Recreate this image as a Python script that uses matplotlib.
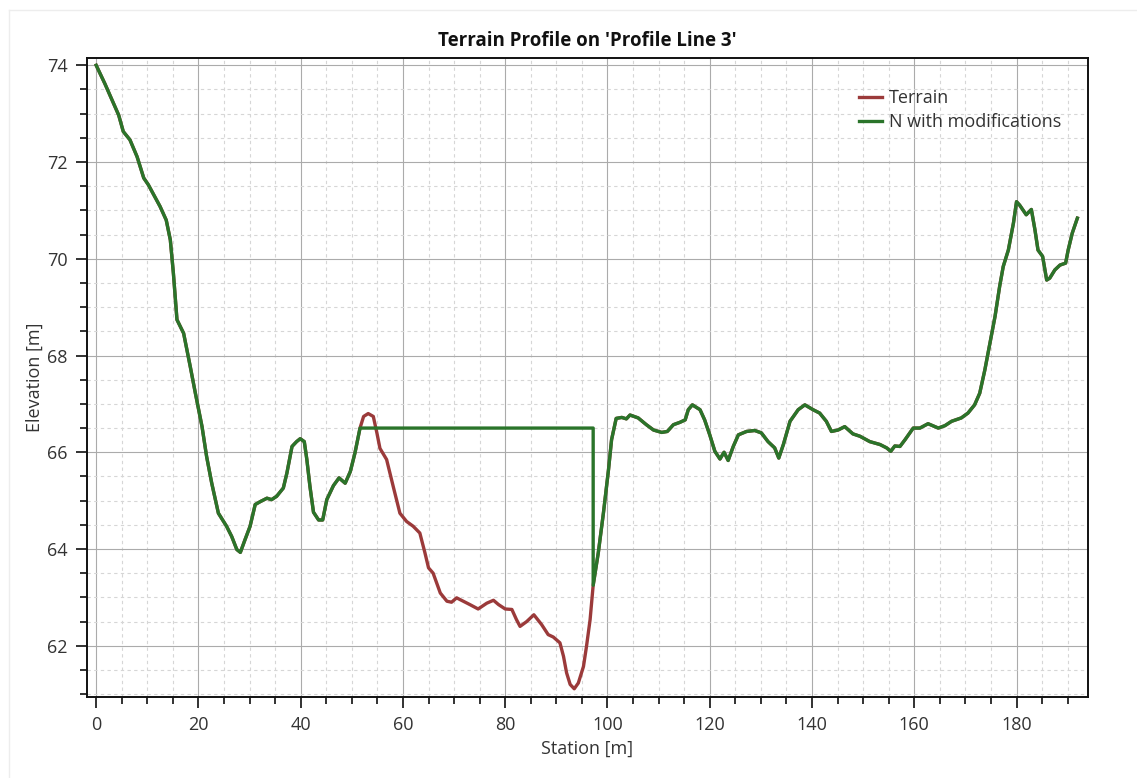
import matplotlib
matplotlib.use('Agg')
import matplotlib.pyplot as plt
from matplotlib.lines import Line2D
from matplotlib.ticker import MultipleLocator
import numpy as np

plt.rcParams['font.family'] = ['Open Sans', 'DejaVu Sans']

# terrain along the profile line: station [m], elevation [m]
station = [
    0.0, 1.7, 3.4, 4.4, 5.3, 6.6, 8.0, 9.3, 10.2, 12.5, 13.7, 14.5, 15.1, 15.8,
    17.1, 18.4, 19.4, 20.7, 21.6, 22.6, 23.9, 25.5, 26.5, 27.5, 28.2, 29.1,
    30.1, 31.1, 32.1, 33.4, 34.3, 35.3, 36.6, 37.3, 38.3, 39.2, 39.9, 40.7,
    41.2, 41.8, 42.5, 43.5, 44.3, 45.1, 46.4, 47.5, 48.7, 49.7, 50.6, 51.6,
    52.3, 53.2, 54.2, 54.9, 55.5, 56.8, 58.1, 59.4, 60.7, 62.0, 63.3, 64.3,
    65.0, 65.9, 67.3, 68.6, 69.5, 70.5, 71.8, 73.1, 74.7, 76.4, 77.7, 78.7,
    80.0, 81.3, 82.2, 82.9, 84.2, 85.6, 87.1, 88.4, 89.4, 90.7, 91.4, 92.0,
    92.7, 93.5, 94.3, 95.3, 95.9, 96.6, 97.2, 98.2, 99.2, 100.2, 100.8, 101.7,
    102.8, 103.7, 104.4, 106.0, 107.6, 109.0, 110.6, 111.7, 112.9, 114.2,
    115.2, 115.8, 116.6, 118.1, 119.0, 120.0, 121.0, 122.0, 122.8, 123.6,
    124.6, 125.6, 127.2, 128.8, 130.1, 131.4, 132.7, 133.5, 134.4, 135.7,
    137.3, 138.6, 140.2, 141.5, 142.8, 143.8, 145.1, 146.4, 148.0, 149.4,
    151.3, 153.3, 154.6, 155.4, 156.2, 157.2, 158.2, 159.8, 161.1, 162.7,
    164.7, 166.0, 167.3, 169.2, 170.5, 171.8, 172.8, 173.8, 174.8, 175.8,
    176.7, 177.4, 178.4, 179.4, 180.0, 180.6, 181.9, 182.9, 183.6, 184.2,
    185.1, 185.9, 186.5, 187.5, 188.5, 189.6, 190.1, 190.9, 191.9,
]
elevation = [
    74.00, 73.62, 73.21, 72.97, 72.63, 72.46, 72.11, 71.67, 71.53, 71.08,
    70.80, 70.39, 69.70, 68.74, 68.46, 67.77, 67.22, 66.53, 65.91, 65.36,
    64.74, 64.47, 64.26, 63.99, 63.93, 64.19, 64.47, 64.92, 64.98, 65.05,
    65.02, 65.09, 65.26, 65.57, 66.12, 66.22, 66.28, 66.22, 65.85, 65.30,
    64.76, 64.60, 64.60, 65.02, 65.31, 65.47, 65.36, 65.60, 65.98, 66.50,
    66.74, 66.80, 66.74, 66.40, 66.08, 65.85, 65.29, 64.74, 64.57, 64.47,
    64.33, 63.92, 63.61, 63.50, 63.09, 62.92, 62.90, 62.99, 62.92, 62.85,
    62.76, 62.88, 62.94, 62.85, 62.76, 62.75, 62.54, 62.40, 62.50, 62.64,
    62.44, 62.23, 62.18, 62.06, 61.78, 61.44, 61.20, 61.11, 61.23, 61.57,
    61.99, 62.54, 63.25, 63.92, 64.74, 65.64, 66.26, 66.70, 66.72, 66.69,
    66.77, 66.71, 66.57, 66.46, 66.41, 66.43, 66.57, 66.62, 66.67, 66.88,
    66.98, 66.88, 66.67, 66.36, 66.02, 65.86, 66.00, 65.83, 66.12, 66.36,
    66.43, 66.45, 66.40, 66.22, 66.09, 65.88, 66.16, 66.64, 66.88, 66.98,
    66.88, 66.81, 66.64, 66.43, 66.46, 66.53, 66.38, 66.33, 66.22, 66.16,
    66.09, 66.02, 66.13, 66.12, 66.26, 66.50, 66.50, 66.59, 66.50, 66.55,
    66.64, 66.71, 66.81, 66.98, 67.22, 67.70, 68.26, 68.81, 69.43, 69.84,
    70.18, 70.74, 71.18, 71.11, 70.91, 71.02, 70.60, 70.18, 70.05, 69.56,
    69.60, 69.77, 69.87, 69.91, 70.18, 70.53, 70.84,
]

# level fill between two stations
pad_start = 51.6
pad_end = 97.2
pad_elevation = 66.5

terrain_color = '#9b3a3a'
modified_color = '#2a742a'

st = np.array(station)
el = np.array(elevation)

# modified profile: terrain up to the pad, flat pad, drop back to terrain
before = st <= pad_start
after = st >= pad_end
mod_x = np.concatenate([st[before], [pad_end], st[after]])
mod_y = np.concatenate([el[before], [pad_elevation], el[after]])

fig = plt.figure(figsize=(11.37, 7.78), dpi=100)
ax = fig.add_axes([0.0765, 0.1041, 0.8805, 0.8213])

ax.plot(st, el, color=terrain_color, lw=2.4, solid_joinstyle='round',
        label='Terrain', zorder=3)
ax.plot(mod_x, mod_y, color=modified_color, lw=2.4, solid_joinstyle='round',
        label='N with modifications', zorder=4)

ax.set_xlim(-1.8, 194)
ax.set_ylim(60.94, 74.15)
ax.xaxis.set_major_locator(MultipleLocator(20))
ax.xaxis.set_minor_locator(MultipleLocator(5))
ax.yaxis.set_major_locator(MultipleLocator(2))
ax.yaxis.set_minor_locator(MultipleLocator(0.5))

ax.grid(which='major', color='#ababab', lw=0.8, ls='-', zorder=1)
ax.grid(which='minor', color='#d6d6d6', lw=0.8, ls=(0, (3, 3)), zorder=1)

ax.tick_params(which='major', length=8, width=1.3, color='#222222',
               labelsize=13, labelcolor='#333333', pad=6)
ax.tick_params(which='minor', length=5, width=1.3, color='#222222')

for side in ax.spines.values():
    side.set_color('#111111')
    side.set_linewidth(1.4)

ax.set_xlabel('Station [m]', fontsize=13, color='#333333', labelpad=4)
ax.set_ylabel('Elevation [m]', fontsize=13, color='#333333', labelpad=2)
ax.set_title("Terrain Profile on 'Profile Line 3'", fontsize=13.5,
             fontweight='bold', color='#111111', pad=9)

ax.legend(loc='upper left', bbox_to_anchor=(0.762, 0.965), frameon=False,
          fontsize=13, handlelength=1.3, handletextpad=0.35, labelspacing=0.3,
          borderpad=0, labelcolor='#333333')

# faint panel border
fig.add_artist(Line2D([9 / 1137, 9 / 1137], [0, 1 - 10 / 778],
                      transform=fig.transFigure, color='#ededed', lw=1))
fig.add_artist(Line2D([9 / 1137, 1], [1 - 10 / 778, 1 - 10 / 778],
                      transform=fig.transFigure, color='#ededed', lw=1))

fig.savefig('out.png', dpi=100)
